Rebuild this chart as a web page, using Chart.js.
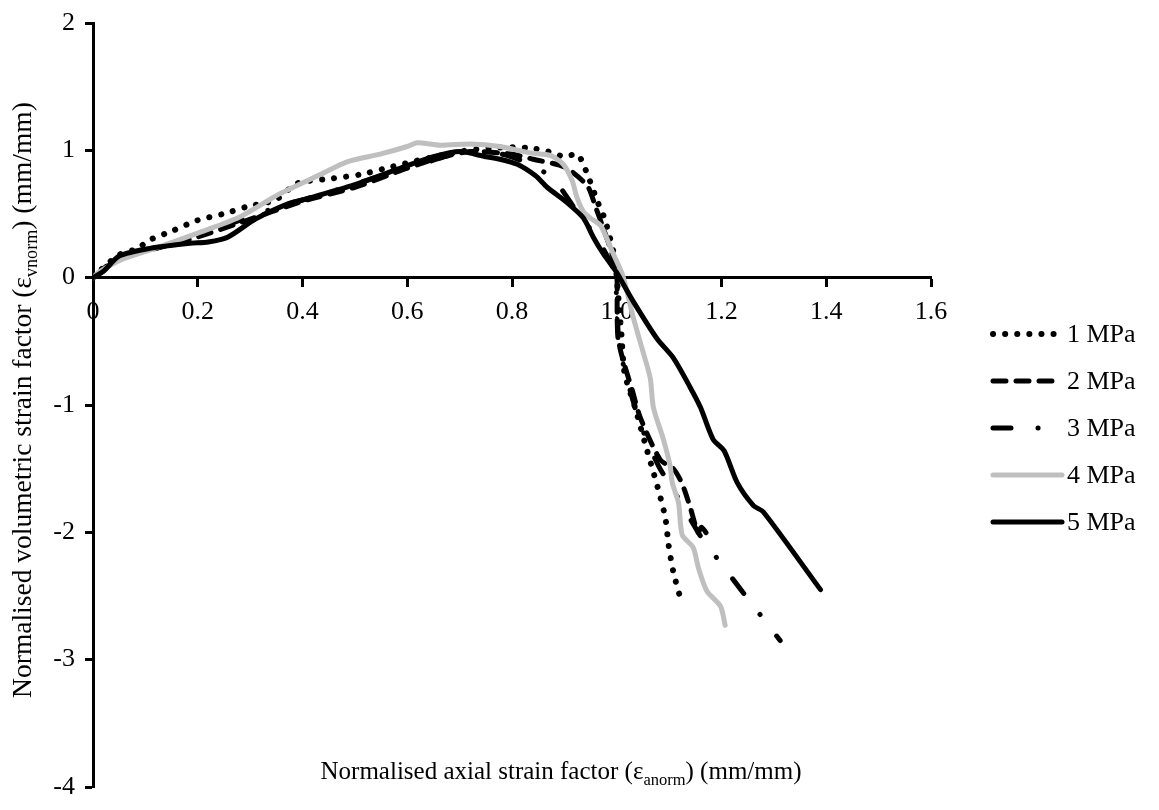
<!DOCTYPE html>
<html>
<head>
<meta charset="utf-8">
<script src="https://cdn.jsdelivr.net/npm/chart.js@4.4.1/dist/chart.umd.min.js"></script>
<style>
    html, body { margin: 0; padding: 0; background: #fff; }
</style>
</head>
<body>
<canvas id="canvas" width="1159" height="810"></canvas>
<script>
// series labels and values
const seriesLabels = ['1 MPa', '2 MPa', '3 MPa', '4 MPa', '5 MPa'];

const x1 = [0, 0.02, 0.05, 0.086, 0.105, 0.153, 0.199, 0.248, 0.296, 0.348, 0.39, 0.459, 0.51, 0.56, 0.62, 0.7, 0.76, 0.83, 0.87, 0.9, 0.925, 0.937, 0.947, 0.963, 0.978, 0.997, 1.0, 1.004, 1.009, 1.015, 1.035, 1.054, 1.068, 1.081, 1.093, 1.099, 1.108, 1.121];
const y1 = [0, 0.08, 0.18, 0.23, 0.29, 0.37, 0.45, 0.5, 0.56, 0.61, 0.74, 0.78, 0.81, 0.86, 0.92, 0.99, 1.02, 1.02, 0.99, 0.95, 0.97, 0.88, 0.78, 0.6, 0.45, 0.14, 0, -0.2, -0.45, -0.75, -1.02, -1.3, -1.5, -1.69, -1.89, -2.1, -2.31, -2.51];

const x2 = [0, 0.05, 0.13, 0.2, 0.28, 0.4, 0.5, 0.6, 0.66, 0.72, 0.8, 0.84, 0.9, 0.944, 0.96, 0.975, 0.99, 1.0, 1.001, 1.006, 1.03, 1.045, 1.083, 1.108, 1.125, 1.14, 1.155, 1.162, 1.175];
const y2 = [0, 0.15, 0.24, 0.32, 0.43, 0.6, 0.71, 0.86, 0.94, 0.99, 0.97, 0.93, 0.87, 0.72, 0.55, 0.38, 0.2, 0.02, -0.3, -0.55, -0.89, -1.1, -1.43, -1.5, -1.62, -1.8, -2.0, -1.96, -2.03];

const x3 = [0, 0.05, 0.12, 0.2, 0.26, 0.35, 0.45, 0.55, 0.64, 0.7, 0.78, 0.84, 0.88, 0.917, 0.965, 0.995, 1.0, 1.003, 1.02, 1.045, 1.08, 1.11, 1.144, 1.16, 1.2, 1.25, 1.312];
const y3 = [0, 0.16, 0.23, 0.33, 0.42, 0.55, 0.67, 0.8, 0.91, 0.98, 0.97, 0.88, 0.77, 0.56, 0.29, 0.05, -0.2, -0.5, -0.8, -1.15, -1.48, -1.68, -1.92, -2.03, -2.25, -2.52, -2.85];

const x4 = [0, 0.01, 0.053, 0.118, 0.2, 0.277, 0.34, 0.357, 0.434, 0.485, 0.548, 0.6, 0.619, 0.663, 0.72, 0.777, 0.835, 0.873, 0.898, 0.915, 0.924, 0.936, 0.949, 0.969, 0.993, 1.012, 1.032, 1.05, 1.064, 1.07, 1.089, 1.102, 1.106, 1.118, 1.125, 1.146, 1.156, 1.172, 1.198, 1.207];
const y4 = [0, 0.04, 0.14, 0.23, 0.35, 0.47, 0.62, 0.66, 0.81, 0.91, 0.97, 1.03, 1.06, 1.04, 1.05, 1.03, 0.98, 0.96, 0.89, 0.76, 0.63, 0.52, 0.47, 0.41, 0.19, 0.01, -0.32, -0.58, -0.79, -1.02, -1.27, -1.48, -1.61, -1.77, -2.02, -2.12, -2.28, -2.46, -2.58, -2.73];

const x5 = [0, 0.02, 0.05, 0.109, 0.185, 0.22, 0.258, 0.31, 0.372, 0.4, 0.5, 0.6, 0.65, 0.7, 0.75, 0.777, 0.81, 0.845, 0.867, 0.905, 0.936, 0.955, 0.974, 1.0, 1.007, 1.032, 1.077, 1.108, 1.14, 1.16, 1.184, 1.205, 1.23, 1.261, 1.28, 1.389];
const y5 = [0, 0.05, 0.17, 0.23, 0.27, 0.28, 0.32, 0.46, 0.58, 0.61, 0.73, 0.88, 0.95, 0.99, 0.95, 0.93, 0.89, 0.8, 0.71, 0.59, 0.47, 0.32, 0.19, 0.04, -0.01, -0.19, -0.48, -0.63, -0.86, -1.02, -1.27, -1.36, -1.61, -1.79, -1.84, -2.45];

const xTicks = { min: 0, max: 1.6, step: 0.2 };
const yTicks = { min: -4, max: 2, step: 1 };

const xTitle = [{ t: 'Normalised axial strain factor (\u03b5' }, { t: 'anorm', sub: true }, { t: ') (mm/mm)' }];
const yTitle = [{ t: 'Normalised volumetric strain factor (\u03b5' }, { t: 'vnorm', sub: true }, { t: ') (mm/mm)' }];

const FONT = '"Liberation Serif", "Times New Roman", serif';

function pts(xs, ys) {
    return xs.map((x, i) => ({ x: x, y: ys[i] }));
}

const xs = [x1, x2, x3, x4, x5];
const ys = [y1, y2, y3, y4, y5];
const colors = ['#000000', '#000000', '#000000', '#bfbfbf', '#000000'];
const dashes = [[0.1, 12], [13, 10], [18, 27, 0.1, 27], [], []];
const widths = [6, 5, 5, 5, 5];

// text with a subscript part
function richWidth(ctx, parts, size) {
    let w = 0;
    parts.forEach(p => {
        ctx.font = (p.sub ? size * 0.66 : size) + 'px ' + FONT;
        w += ctx.measureText(p.t).width;
    });
    return w;
}

function drawRich(ctx, parts, x, y, size) {
    let cx = x;
    parts.forEach(p => {
        ctx.font = (p.sub ? size * 0.66 : size) + 'px ' + FONT;
        ctx.fillText(p.t, cx, p.sub ? y + size * 0.22 : y);
        cx += ctx.measureText(p.t).width;
    });
}

const titlesPlugin = {
    id: 'titles',
    afterDraw(chart) {
        const ctx = chart.ctx;
        ctx.save();
        ctx.fillStyle = '#000';
        ctx.textBaseline = 'alphabetic';
        ctx.textAlign = 'left';
        let w = richWidth(ctx, xTitle, 25);
        drawRich(ctx, xTitle, 561 - w / 2, 779, 25);

        w = richWidth(ctx, yTitle, 27.5);
        ctx.translate(31, 400);
        ctx.rotate(-Math.PI / 2);
        drawRich(ctx, yTitle, -w / 2, 0, 27.5);
        ctx.restore();
    }
};

const legendPlugin = {
    id: 'sideLegend',
    afterDraw(chart) {
        const ctx = chart.ctx;
        ctx.save();
        chart.data.datasets.forEach((ds, i) => {
            const y = 334 + i * 47;
            ctx.beginPath();
            ctx.setLineDash(ds.borderDash || []);
            ctx.lineCap = 'round';
            ctx.lineWidth = ds.borderWidth;
            ctx.strokeStyle = ds.borderColor;
            ctx.moveTo(993, y);
            ctx.lineTo(1062, y);
            ctx.stroke();
            ctx.setLineDash([]);
            ctx.fillStyle = '#000';
            ctx.font = '26px ' + FONT;
            ctx.textBaseline = 'middle';
            ctx.fillText(ds.label, 1067, y + 1);
        });
        ctx.restore();
    }
};

const axisGrid = {
    drawOnChartArea: false,
    drawTicks: true,
    tickLength: 8,
    tickWidth: 3,
    color: '#000'
};

const datasets = seriesLabels.map((label, i) => ({
    label: label,
    data: pts(xs[i], ys[i]),
    borderColor: colors[i],
    borderWidth: widths[i],
    borderDash: dashes[i],
    borderCapStyle: 'round',
    borderJoinStyle: 'round',
    showLine: true,
    pointRadius: 0,
    tension: 0.25,
    order: seriesLabels.length - i
}));

const chart = new Chart(document.getElementById('canvas'), {
    type: 'scatter',
    data: { datasets: datasets },
    options: {
        responsive: false,
        animation: false,
        devicePixelRatio: 1,
        layout: { padding: { top: 18, right: 228, bottom: 14, left: 0 } },
        plugins: {
            legend: { display: false },
            tooltip: { enabled: false }
        },
        scales: {
            x: {
                type: 'linear',
                min: xTicks.min,
                max: xTicks.max,
                position: { y: 0 },
                ticks: {
                    stepSize: xTicks.step,
                    color: '#000',
                    padding: 14,
                    maxRotation: 0,
                    font: { family: FONT, size: 26, lineHeight: 1 }
                },
                grid: axisGrid,
                border: { color: '#000', width: 3 },
                afterFit: s => { s.height = 0; }
            },
            y: {
                type: 'linear',
                min: yTicks.min,
                max: yTicks.max,
                ticks: {
                    stepSize: yTicks.step,
                    color: '#000',
                    padding: 10,
                    font: { family: FONT, size: 26, lineHeight: 1 }
                },
                grid: axisGrid,
                border: { color: '#000', width: 3 },
                afterFit: s => { s.width = 93; }
            }
        }
    },
    plugins: [titlesPlugin, legendPlugin]
});
</script>
</body>
</html>
